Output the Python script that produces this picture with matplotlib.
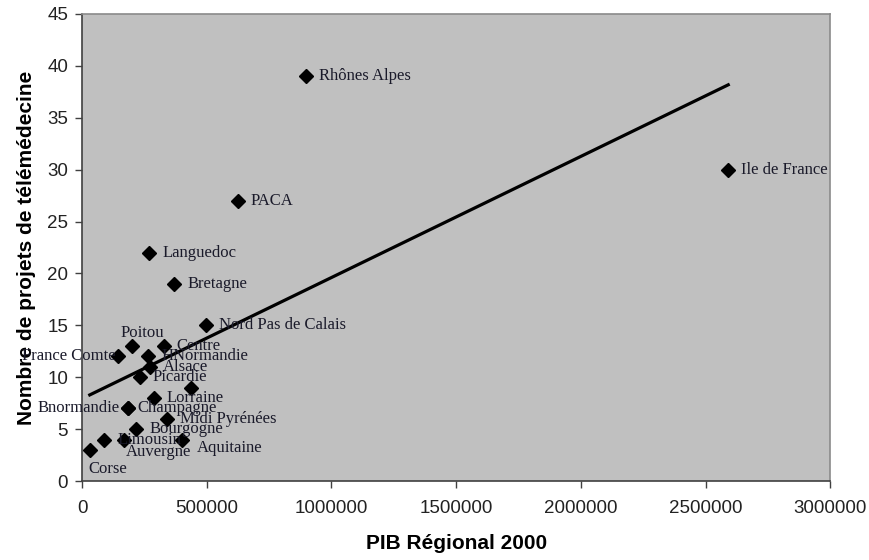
import numpy as np
import matplotlib
matplotlib.use("Agg")
import matplotlib.pyplot as plt

# regions, PIB regional 2000 and number of telemedicine projects
REGIONS = [
    "Corse", "Limousin", "Auvergne", "Bourgogne", "Aquitaine", "Midi Pyrénées",
    "Champagne", "Bnormandie", "Lorraine", "Picardie", "", "Alsace", "HNormandie",
    "Centre", "Poitou", "France Comte", "Nord Pas de Calais", "Languedoc",
    "Bretagne", "PACA", "Rhônes Alpes", "Ile de France",
]
PIB = [
    31000, 89000, 168000, 218000, 399000, 341000,
    185000, 183000, 288000, 232000, 435000, 272000, 265000,
    328000, 201000, 145000, 499000, 269000,
    369000, 624000, 898000, 2591000,
]
PROJETS = [
    3, 4, 4, 5, 4, 6,
    7, 7, 8, 10, 9, 11, 12,
    13, 13, 12, 15, 22,
    19, 27, 39, 30,
]

# label offsets in pixels (dx, dy, ha) for the labels not sitting right of their point
SPECIAL = {
    "Corse": (-1, -19, "left"),
    "Auvergne": (2, -12, "left"),
    "Aquitaine": (15, -8, "left"),
    "Champagne": (9, 0, "left"),
    "Bnormandie": (-8, 0, "right"),
    "Poitou": (-12, 13, "left"),
    "France Comte": (-3, 0, "right"),
}

DPI = 100
fig = plt.figure(figsize=(8.7, 5.6), dpi=DPI)
ax = fig.add_axes([0.0943, 0.141, 0.86, 0.834])
ax.set_facecolor("#c0c0c0")

x = np.array(PIB, dtype=float)
y = np.array(PROJETS, dtype=float)

ax.plot(x, y, linestyle="none", marker="D", markersize=7, color="black", zorder=3)

# linear trend line over the data range
slope, icpt = np.polyfit(x, y, 1)
xs = np.array([x.min(), x.max()])
ax.plot(xs, slope * xs + icpt, color="black", lw=2.3, zorder=2)

px = 72.0 / DPI
for name, xi, yi in zip(REGIONS, x, y):
    if not name:
        continue
    dx, dy, ha = SPECIAL.get(name, (13, 0, "left"))
    ax.annotate(name, (xi, yi), xytext=(dx * px, dy * px), textcoords="offset points",
                ha=ha, va="center", fontsize=12, family="Liberation Serif",
                color="#1a1a2a", zorder=4)

ax.set_xlim(0, 3000000)
ax.set_ylim(0, 45)
ax.set_xticks(np.arange(0, 3000001, 500000))
ax.set_yticks(np.arange(0, 46, 5))
ax.set_xticklabels([str(v) for v in range(0, 3000001, 500000)])
ax.tick_params(direction="out", length=5, width=1, color="#404040", labelsize=13.5,
               labelcolor="#222222")
ax.tick_params(axis="x", pad=9)
ax.tick_params(axis="y", pad=5)
for lab in ax.get_xticklabels() + ax.get_yticklabels():
    lab.set_family("Liberation Sans")

for side in ["left", "bottom"]:
    ax.spines[side].set_color("#404040")
    ax.spines[side].set_linewidth(1.2)
for side in ["top", "right"]:
    ax.spines[side].set_color("#8a8a8a")
    ax.spines[side].set_linewidth(1.2)

ax.set_xlabel("PIB Régional 2000", fontsize=15, fontweight="bold",
              family="Liberation Sans", labelpad=12)
ax.set_ylabel("Nombre de projets de télémédecine", fontsize=15, fontweight="bold",
              family="Liberation Sans", labelpad=8)

fig.savefig("out.png", dpi=DPI)
